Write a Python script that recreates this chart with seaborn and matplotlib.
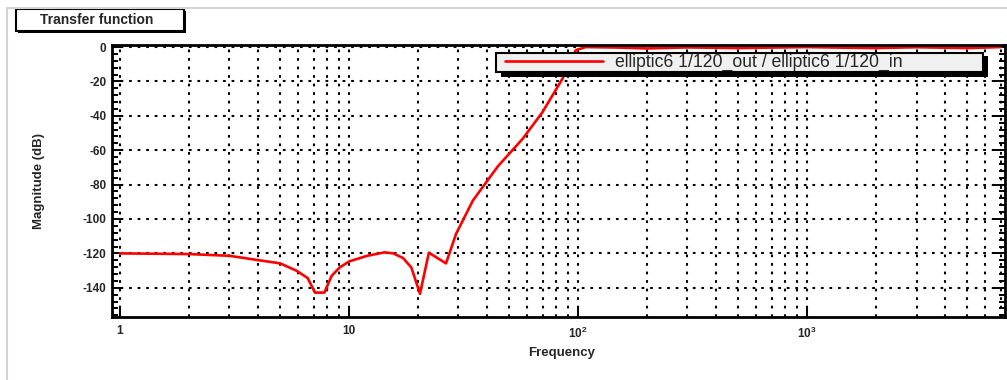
import numpy as np
import pandas as pd
import seaborn as sns
import matplotlib.pyplot as plt
from matplotlib.lines import Line2D
from matplotlib.patches import Rectangle
from matplotlib.legend_handler import HandlerLine2D
from matplotlib.ticker import FixedLocator, FixedFormatter, MultipleLocator, NullFormatter

# values
freq = [1, 2, 3, 4, 5, 5.9, 6.6, 7.1, 7.8, 8.4, 9.1, 10, 12, 14.3, 15.6, 17.2, 18.7,
        20.4, 22.3, 26.5, 29.3, 34.7, 44.6, 57.3, 70, 85.5, 97.7, 108, 150, 200,
        300, 500, 700, 1000, 1500, 2000, 3000, 5000, 7000]
mag_db = [-120, -120.4, -121.4, -123.9, -125.8, -130.1, -134.4, -142.8, -142.8, -133,
          -128.2, -124.7, -121.4, -119.4, -120, -122.7, -128.2, -143.5, -119.6, -125.8,
          -108.7, -89.3, -69.4, -53.3, -37.7, -18.3, -1.8, 0, -0.3, -0.8, -0.2, -0.6,
          -0.3, 0, -0.4, -0.6, -0.1, -0.6, 0]
series_name = "elliptic6 1/120_out / elliptic6 1/120_in"
x_major = [1, 10, 100, 1000]
x_labels = ["1", "10", r"$\mathbf{10^{2}}$", r"$\mathbf{10^{3}}$"]

sns.set_theme(style="white")
plt.rcParams['font.family'] = ['Liberation Sans', 'DejaVu Sans']
plt.rcParams['mathtext.fontset'] = 'custom'
plt.rcParams['mathtext.rm'] = 'Liberation Sans'
plt.rcParams['mathtext.bf'] = 'Liberation Sans:bold'
plt.rcParams['axes.unicode_minus'] = False

df = pd.DataFrame({"freq": freq, "mag": mag_db})

fig = plt.figure(figsize=(10.07, 3.80), dpi=100)
ax = fig.add_axes([112 / 1007, 1 - 317 / 380, (1005 - 112) / 1007, (317 - 45) / 380])

sns.lineplot(data=df, x="freq", y="mag", ax=ax, color="red", lw=1.9,
             label=series_name, sort=False)

ax.set_xscale("log")
ax.set_xlim(0.923, 7300)
ax.set_ylim(-157, 1.2)

# ticks, ROOT style: inward, both y sides
ax.xaxis.set_major_locator(FixedLocator(x_major))
ax.xaxis.set_major_formatter(FixedFormatter(x_labels))
minor = [m * 10 ** d for d in range(0, 4) for m in range(2, 10)]
ax.xaxis.set_minor_locator(FixedLocator(minor))
ax.xaxis.set_minor_formatter(NullFormatter())
ax.yaxis.set_major_locator(MultipleLocator(20))
ax.yaxis.set_minor_locator(MultipleLocator(4))
ax.tick_params(axis="both", which="both", direction="in", color="black", width=1.4)
ax.tick_params(axis="y", which="both", left=True, right=True)
ax.tick_params(axis="y", which="major", length=8)
ax.tick_params(axis="y", which="minor", length=4.5)
ax.tick_params(axis="x", which="major", length=7, bottom=True)
ax.tick_params(axis="x", which="minor", length=0)
ax.tick_params(axis="y", which="major", labelsize=8.5, pad=4)
ax.tick_params(axis="x", which="major", labelsize=8.5, pad=6)
for lab in ax.get_xticklabels() + ax.get_yticklabels():
    lab.set_fontweight("bold")

ax.grid(True, which="major", axis="y", color="black", lw=1.5, ls=(0, (1.3, 2.8)))
ax.grid(True, which="both", axis="x", color="black", lw=1.5, ls=(0, (1.3, 2.8)))

for s in ax.spines.values():
    s.set_color("black")
    s.set_linewidth(2)

ax.set_xlabel("Frequency", fontsize=9.5, fontweight="bold")
ax.set_ylabel("Magnitude (dB)", fontsize=9.5, fontweight="bold")
ax.xaxis.set_label_coords(0.503, -0.11)
ax.yaxis.set_label_coords(-0.075, 0.5)

fs_leg = 12.7
leg = ax.legend(loc="upper left",
                bbox_to_anchor=(496 / 1007, 1 - 53 / 380 - 0.01, (983 - 496) / 1007, 0.01),
                bbox_transform=fig.transFigure, mode="expand", fontsize=fs_leg,
                handlelength=6.0, handletextpad=0.7, borderpad=0.05, borderaxespad=0,
                handler_map={Line2D: HandlerLine2D(xpad=0.45)},
                fancybox=False, framealpha=1, facecolor="#f0f0f0", edgecolor="black")
leg.get_frame().set_linewidth(1.5)
leg.get_lines()[0].set_linewidth(1.9)
# ROOT style drop shadow behind the legend box
ax.add_patch(Rectangle((501 / 1007, 1 - 77 / 380), (983 - 496) / 1007, 21 / 380,
                       transform=fig.transFigure, fc="black", ec="none",
                       zorder=4.9, clip_on=False))

# title box
fig.add_artist(Rectangle((18 / 1007, 1 - 32.5 / 380), 168 / 1007, 22 / 380,
                         transform=fig.transFigure, fc="black", ec="none"))
fig.add_artist(Rectangle((15.5 / 1007, 1 - 30.5 / 380), 168 / 1007, 21.5 / 380,
                         transform=fig.transFigure, fc="white", ec="black", lw=1.5))
fig.text(97 / 1007, 1 - 19.5 / 380, "Transfer function", fontsize=10,
         fontweight="bold", ha="center", va="center")

# light pad frame
fig.add_artist(Line2D([7 / 1007, 7 / 1007], [0, 1 - 8 / 380],
                      transform=fig.transFigure, color="#d4d4d4", lw=1.5))
fig.add_artist(Line2D([7 / 1007, 1], [1 - 8 / 380, 1 - 8 / 380],
                      transform=fig.transFigure, color="#d4d4d4", lw=1.5))

fig.savefig("out.png", dpi=100, facecolor="white")
